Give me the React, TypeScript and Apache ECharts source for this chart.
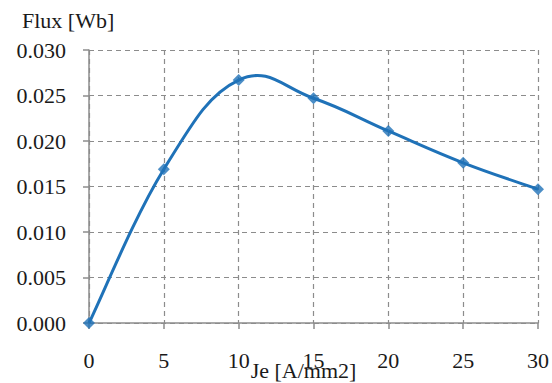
import React, { useEffect, useRef } from "react";
import * as echarts from "echarts";

const jeValues = [0, 5, 10, 15, 20, 25, 30];
const fluxValues = [0.0, 0.0169, 0.0267, 0.0247, 0.0211, 0.0176, 0.0147];

const FONT = "Liberation Serif";
const BLUE = "#1f72b8";
const GRID = "#8c8c8c";
const TEXT = "#1a1a1a";

export default function App() {
  const ref = useRef<HTMLDivElement>(null);
  useEffect(() => {
    if (!ref.current) return;
    const chart = echarts.init(ref.current, undefined, { renderer: "svg" });
    const points = jeValues.map((x, i) => [x, fluxValues[i]]);
    chart.setOption({
      animation: false,
      backgroundColor: "#ffffff",
      textStyle: { fontFamily: FONT },
      grid: { left: 89, right: 14, top: 50, bottom: 60, containLabel: false, outerBoundsMode: "none" },
      graphic: [
        {
          type: "text",
          left: 22,
          top: 9,
          style: { text: "Flux [Wb]", fontFamily: FONT, fontSize: 22, fill: TEXT },
        },
      ],
      xAxis: {
        type: "value",
        min: 0,
        max: 30,
        interval: 5,
        name: "Je [A/mm2]",
        nameLocation: "middle",
        nameGap: 36,
        nameMoveOverlap: false,
        nameTextStyle: { fontFamily: FONT, fontSize: 22, color: TEXT, padding: [0, 20, 0, 0] },
        axisLine: { show: true, lineStyle: { color: GRID, width: 1.5 } },
        axisTick: { show: true, length: 6, lineStyle: { color: GRID, width: 1.5 } },
        axisLabel: {
          fontFamily: FONT,
          fontSize: 22,
          color: TEXT,
          margin: 26,
          formatter: (v: number) => String(v),
        },
        splitLine: { show: true, lineStyle: { color: GRID, type: [5, 4], width: 1.2 } },
      },
      yAxis: {
        type: "value",
        min: 0,
        max: 0.03,
        interval: 0.005,
        axisLine: { show: true, lineStyle: { color: GRID, width: 1.5 } },
        axisTick: { show: true, length: 6, lineStyle: { color: GRID, width: 1.5 } },
        axisLabel: {
          fontFamily: FONT,
          fontSize: 22,
          color: TEXT,
          margin: 23,
          formatter: (v: number) => v.toFixed(3),
        },
        splitLine: { show: true, lineStyle: { color: GRID, type: [5, 4], width: 1.2 } },
      },
      series: [
        {
          type: "custom",
          name: "Flux curve",
          data: points,
          clip: false,
          silent: true,
          z: 2,
          renderItem: (params: any, api: any) => {
            const i = params.dataIndex;
            const n = points.length;
            if (i >= n - 1) return null;
            const c = (k: number) => api.coord(points[Math.max(0, Math.min(n - 1, k))]);
            const p0 = c(i - 1);
            const p1 = c(i);
            const p2 = c(i + 1);
            const p3 = c(i + 2);
            const f = 0.2;
            const c1 = [p1[0] + (p2[0] - p0[0]) * f, p1[1] + (p2[1] - p0[1]) * f];
            const c2 = [p2[0] - (p3[0] - p1[0]) * f, p2[1] - (p3[1] - p1[1]) * f];
            return {
              type: "bezierCurve",
              shape: {
                x1: p1[0], y1: p1[1], cpx1: c1[0], cpy1: c1[1],
                cpx2: c2[0], cpy2: c2[1], x2: p2[0], y2: p2[1],
              },
              style: { stroke: BLUE, lineWidth: 3, fill: "none" },
            };
          },
        },
        {
          type: "scatter",
          name: "Flux",
          data: points,
          symbol: "diamond",
          symbolSize: 12,
          z: 3,
          itemStyle: { color: BLUE },
        },
      ],
    });
    return () => chart.dispose();
  }, []);
  return (
    <div
      ref={ref}
      style={{ position: "fixed", left: 0, top: 0, width: 552, height: 383 }}
    />
  );
}
